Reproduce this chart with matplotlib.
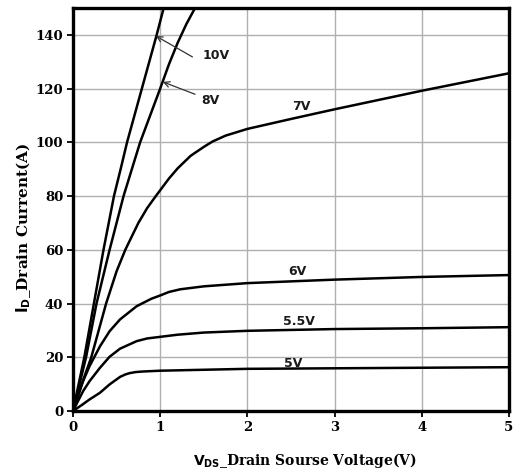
import numpy as np
import matplotlib
matplotlib.use('Agg')
import matplotlib.pyplot as plt

# (VDS in V, ID in A)
vds_10 = [0, 0.13, 0.24, 0.35, 0.47, 0.55, 0.62, 0.79, 0.96, 1.04]
id_10 = [0, 20, 40, 60, 80, 90.5, 100, 120, 140, 150]

vds_8 = [0, 0.15, 0.27, 0.42, 0.58, 0.77, 1.0, 1.1, 1.2, 1.3, 1.40]
id_8 = [0, 20, 40, 60, 80, 100, 120, 129, 137, 144, 150]

vds_7 = [0, 0.1, 0.21, 0.38, 0.5, 0.6, 0.75, 0.85, 0.95, 1.1, 1.2, 1.35,
         1.5, 1.6, 1.75, 2, 2.5, 3, 4, 5]
id_7 = [0, 10, 20, 40, 52, 60, 70, 75.5, 80, 86.5, 90.3, 95,
        98.3, 100.3, 102.5, 105, 108.7, 112.3, 119.2, 125.7]

vds_6 = [0, 0.116, 0.19, 0.31, 0.42, 0.54, 0.73, 0.9, 1.0, 1.1, 1.23, 1.5, 2, 3, 4, 5]
id_6 = [0, 11.1, 16.7, 24.1, 29.7, 34.1, 39.0, 41.8, 43.0, 44.3, 45.3, 46.4, 47.6, 48.9, 49.9, 50.6]

vds_55 = [0, 0.116, 0.19, 0.31, 0.42, 0.54, 0.73, 0.85, 1.0, 1.2, 1.5, 2, 3, 4, 5]
id_55 = [0, 7.4, 11.1, 16.1, 20.2, 23.2, 26.0, 27.0, 27.6, 28.4, 29.2, 29.85, 30.5, 30.8, 31.2]

vds_5 = [0, 0.1, 0.19, 0.31, 0.42, 0.54, 0.6, 0.65, 0.72, 0.8, 1.0, 2, 3, 4, 5]
id_5 = [0, 2.2, 4.3, 6.8, 9.9, 12.7, 13.6, 14.1, 14.5, 14.7, 15.0, 15.7, 15.9, 16.1, 16.3]

curves = [(vds_10, id_10), (vds_8, id_8), (vds_7, id_7),
          (vds_6, id_6), (vds_55, id_55), (vds_5, id_5)]

# curve labels: text, position
labels = [('7V', 2.62, 113.5), ('6V', 2.57, 52.0),
          ('5.5V', 2.59, 33.3), ('5V', 2.53, 17.8),
          ('10V', 1.64, 132.4), ('8V', 1.57, 115.4)]
# arrows: tail, tip
arrows = [((1.37, 131.8), (0.95, 139.6)),
          ((1.40, 117.9), (1.03, 122.5))]

fig = plt.figure(figsize=(5.15, 4.74), dpi=100)
ax = fig.add_axes([0.1417, 0.1329, 0.8466, 0.8502])

plt.rcParams['mathtext.fontset'] = 'dejavuserif'

for xs, ys in curves:
    ax.plot(xs, ys, color='black', lw=1.8, solid_joinstyle='round', zorder=3)

for txt, x, y in labels:
    ax.text(x, y, txt, ha='center', va='center', fontsize=9,
            fontweight='bold', family='DejaVu Sans', color='#1a1a1a', zorder=4)

for tail, tip in arrows:
    ax.annotate('', xy=tip, xytext=tail,
                arrowprops=dict(arrowstyle='->', color='#333333', lw=0.9,
                                shrinkA=0, shrinkB=0), zorder=4)

ax.set_xlim(0, 5)
ax.set_ylim(0, 150)
ax.set_xticks(np.arange(0, 6, 1))
ax.set_yticks(np.arange(0, 141, 20))
ax.grid(True, color='#b0b0b0', lw=1.0)
ax.set_axisbelow(True)

for s in ax.spines.values():
    s.set_linewidth(2.4)
    s.set_color('black')

ax.tick_params(direction='out', length=4, width=1.3, color='black', pad=3)
for lab in ax.get_xticklabels() + ax.get_yticklabels():
    lab.set_family('DejaVu Serif')
    lab.set_fontweight('bold')
    lab.set_fontsize(9.5)

ax.set_xlabel(r'$\mathbf{V_{DS}}$_Drain Sourse Voltage(V)', family='DejaVu Serif',
              fontweight='bold', fontsize=10)
ax.set_ylabel(r'$\mathbf{I_{D}}$_Drain Current(A)', family='DejaVu Serif',
              fontweight='bold', fontsize=11)
ax.xaxis.set_label_coords(0.532, -0.099)
ax.yaxis.set_label_coords(-0.092, 0.453)

fig.savefig('out.png', dpi=100)
